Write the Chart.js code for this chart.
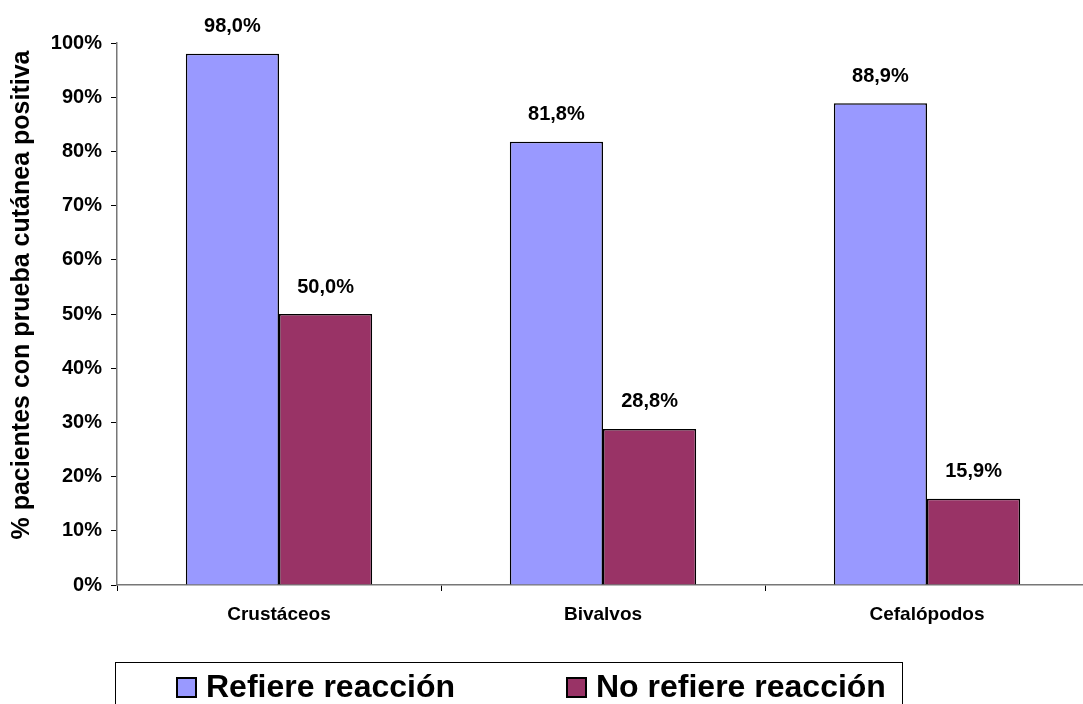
<!DOCTYPE html>
<html>
<head>
<meta charset="utf-8">
<script src="https://cdn.jsdelivr.net/npm/chart.js@4/dist/chart.umd.min.js"></script>
<style>
  html, body { margin: 0; padding: 0; background: #fff; overflow: hidden; }
  #wrap { position: relative; width: 1083px; height: 704px; overflow: hidden; }
  #c { display: block; }
</style>
</head>
<body>
<div id="wrap"><canvas id="c" width="1089" height="704"></canvas></div>
<script>
const categories = ['Crustáceos', 'Bivalvos', 'Cefalópodos'];
const seriesNames = ['Refiere reacción', 'No refiere reacción'];
const refiere = [98.0, 81.8, 88.9];
const noRefiere = [50.0, 28.8, 15.9];
const yTicks = [0, 10, 20, 30, 40, 50, 60, 70, 80, 90, 100];
const yTitle = '% pacientes con prueba cutánea positiva';
const colors = ['#9999FF', '#993366'];

const FONT = "'Liberation Sans', Arial, sans-serif";

// value labels above each bar, written with a decimal comma
const valueLabels = {
  id: 'valueLabels',
  afterDatasetsDraw(chart) {
    const ctx = chart.ctx;
    ctx.save();
    ctx.font = 'bold 20px ' + FONT;
    ctx.fillStyle = '#000';
    ctx.textAlign = 'center';
    ctx.textBaseline = 'bottom';
    chart.data.datasets.forEach((ds, i) => {
      chart.getDatasetMeta(i).data.forEach((bar, j) => {
        const txt = ds.data[j].toFixed(1).replace('.', ',') + '%';
        ctx.fillText(txt, bar.x, bar.y - 17);
      });
    });
    ctx.restore();
  }
};

// rotated axis title at the far left
const sideTitle = {
  id: 'sideTitle',
  afterDraw(chart) {
    const ctx = chart.ctx;
    ctx.save();
    ctx.translate(22, 295);
    ctx.rotate(-Math.PI / 2);
    ctx.font = 'bold 25px ' + FONT;
    ctx.fillStyle = '#000';
    ctx.textAlign = 'center';
    ctx.textBaseline = 'middle';
    ctx.fillText(yTitle, 0, 0);
    ctx.restore();
  }
};

// framed legend below the plot
const boxedLegend = {
  id: 'boxedLegend',
  afterDraw(chart) {
    const ctx = chart.ctx;
    ctx.save();
    ctx.strokeStyle = '#000';
    ctx.lineWidth = 1;
    ctx.strokeRect(115.5, 662.5, 787, 60);
    ctx.font = 'bold 32px ' + FONT;
    ctx.textBaseline = 'alphabetic';
    ctx.textAlign = 'left';
    const items = [{ x: 177 }, { x: 567 }];
    chart.data.datasets.forEach((ds, i) => {
      const sx = items[i].x;
      ctx.fillStyle = ds.backgroundColor;
      ctx.fillRect(sx, 678, 19, 19);
      ctx.lineWidth = 2;
      ctx.strokeRect(sx, 678, 19, 19);
      ctx.fillStyle = '#000';
      ctx.fillText(ds.label, sx + 29, 697);
    });
    ctx.restore();
  }
};

new Chart(document.getElementById('c'), {
  type: 'bar',
  data: {
    labels: categories,
    datasets: [
      { label: seriesNames[0], data: refiere, backgroundColor: colors[0], borderColor: '#000', borderWidth: 1.5 },
      { label: seriesNames[1], data: noRefiere, backgroundColor: colors[1], borderColor: '#000', borderWidth: 1.5 }
    ]
  },
  options: {
    responsive: false,
    animation: false,
    devicePixelRatio: 1,
    layout: { padding: { left: 0, right: 0, top: 43, bottom: 0 } },
    datasets: { bar: { categoryPercentage: 0.575, barPercentage: 1.0 } },
    plugins: {
      legend: { display: false },
      tooltip: { enabled: false }
    },
    scales: {
      x: {
        offset: true,
        grid: { offset: true, drawOnChartArea: false, tickLength: 6, color: '#000', tickColor: '#000' },
        border: { color: '#777', width: 1.5 },
        ticks: { color: '#000', font: { family: FONT, size: 19, weight: 'bold' }, padding: 12, maxRotation: 0 },
        afterFit(s) { s.height = 119; }
      },
      y: {
        min: 0, max: 100,
        afterBuildTicks(s) { s.ticks = yTicks.map(v => ({ value: v })); },
        grid: { drawOnChartArea: false, tickLength: 6, color: '#000', tickColor: '#000' },
        border: { color: '#777', width: 1.5 },
        ticks: { color: '#000', font: { family: FONT, size: 20, weight: 'bold' }, padding: 9, callback: v => v + '%' },
        afterFit(s) { s.width = 117; }
      }
    }
  },
  plugins: [valueLabels, sideTitle, boxedLegend]
});
</script>
</body>
</html>
